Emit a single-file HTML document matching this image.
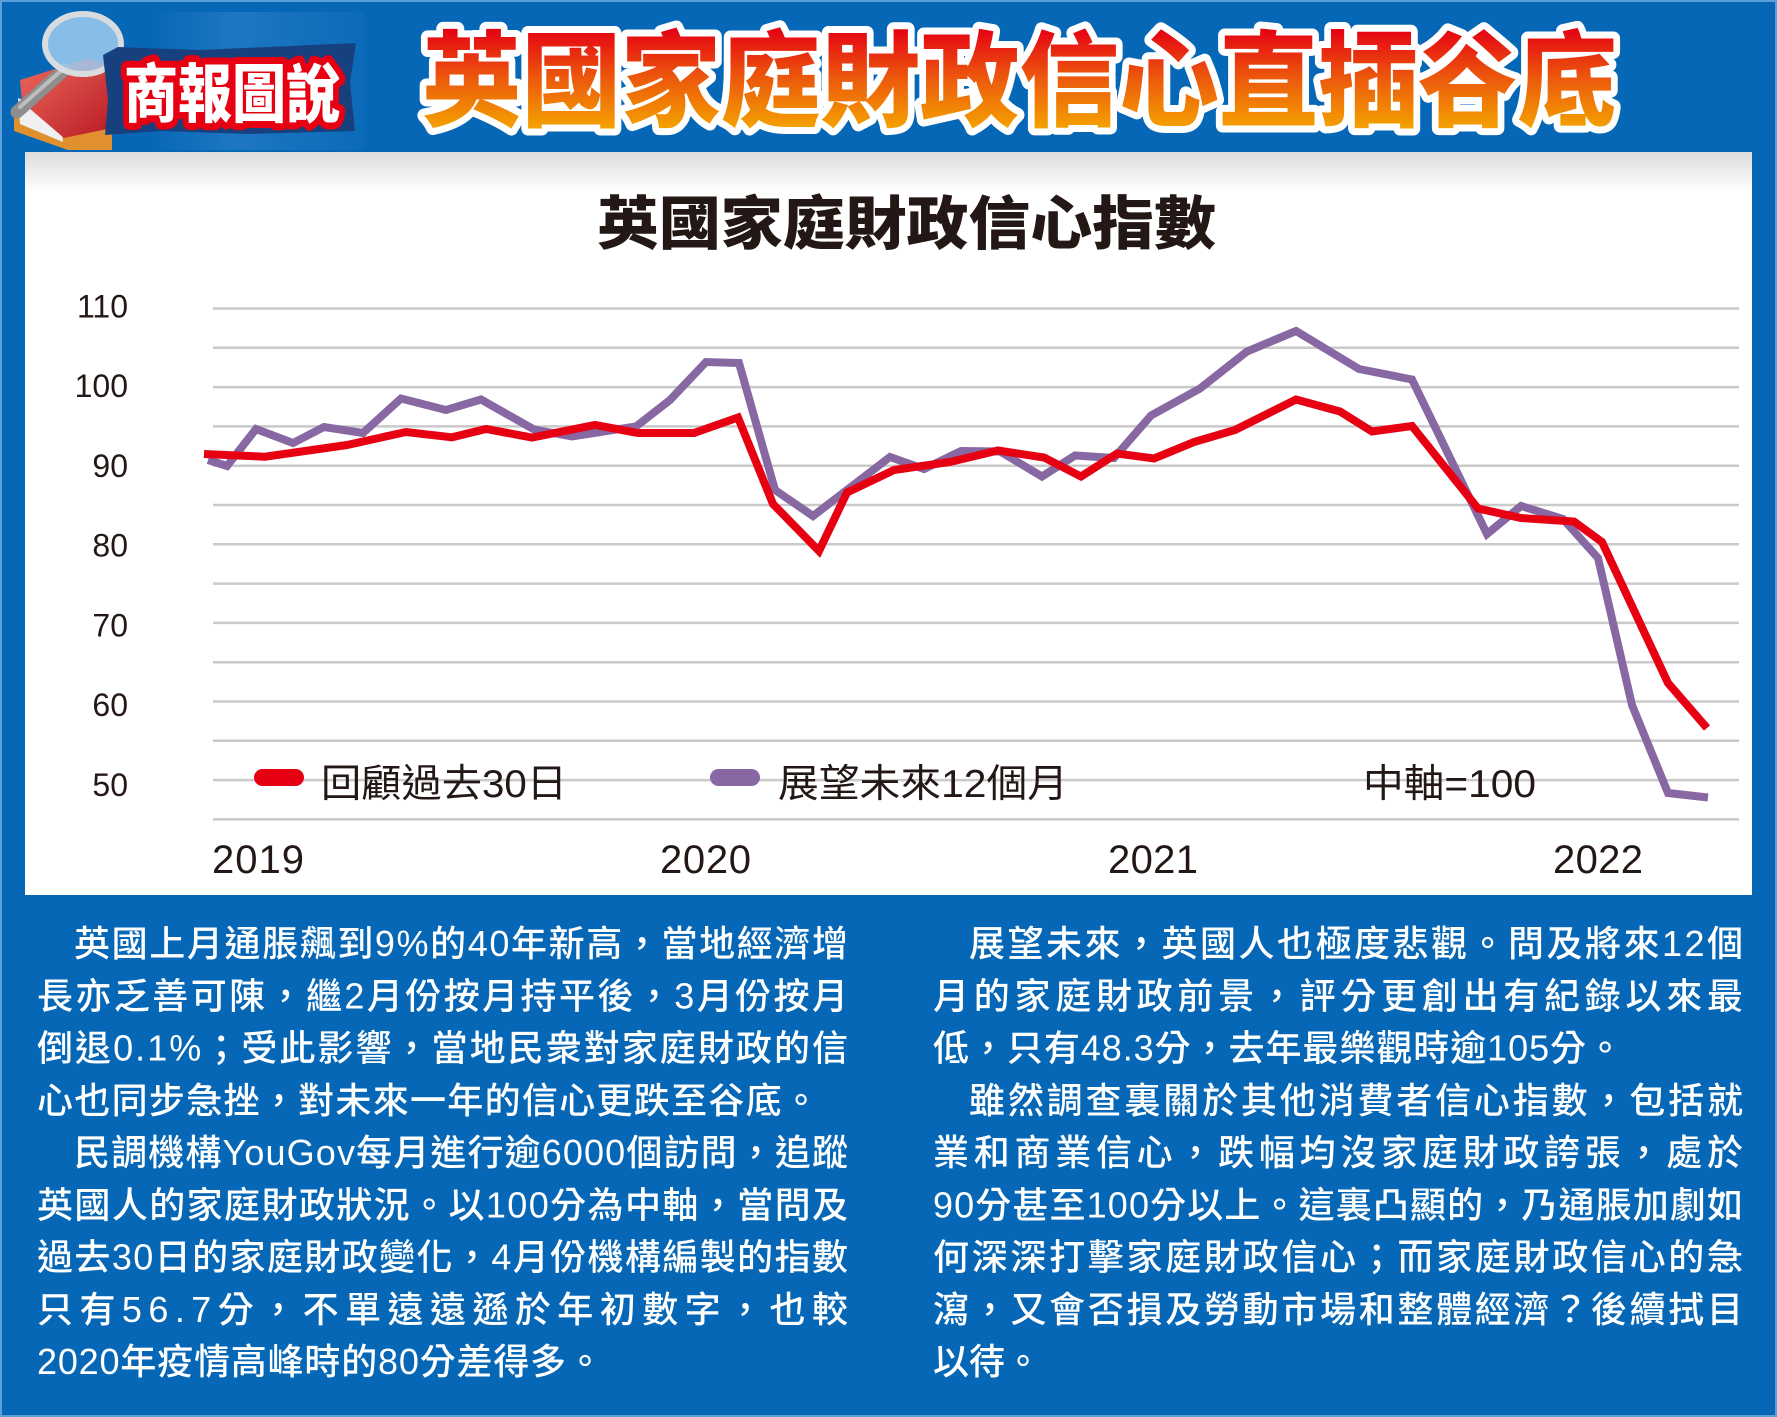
<!DOCTYPE html>
<html><head><meta charset="utf-8">
<style>
html,body{margin:0;padding:0;background:#0667b6;}
svg{display:block;}
text{font-family:"Liberation Sans","Noto Sans CJK TC",sans-serif;}
</style></head><body>
<svg width="1777" height="1417" viewBox="0 0 1777 1417" xmlns="http://www.w3.org/2000/svg">
<defs>
<linearGradient id="tg" gradientUnits="userSpaceOnUse" x1="0" y1="30" x2="0" y2="128">
<stop offset="0" stop-color="#e50314"/><stop offset="0.5" stop-color="#ec5a0c"/><stop offset="1" stop-color="#f4a100"/>
</linearGradient>
<linearGradient id="pg" x1="0" y1="0" x2="0" y2="1">
<stop offset="0" stop-color="#dcdcdc"/><stop offset="1" stop-color="#ffffff"/>
</linearGradient>
<linearGradient id="rb" x1="0" y1="0" x2="1" y2="1">
<stop offset="0" stop-color="#ec6a5c"/><stop offset="1" stop-color="#b91a24"/>
</linearGradient>
<linearGradient id="tex" x1="0" y1="0" x2="1" y2="0">
<stop offset="0" stop-color="#3a8ad0" stop-opacity="0"/><stop offset="0.4" stop-color="#3a8ad0" stop-opacity="0.45"/><stop offset="1" stop-color="#3a8ad0" stop-opacity="0.1"/>
</linearGradient>
</defs>

<rect x="0" y="0" width="1777" height="1417" fill="#0667b6"/>
<rect x="1" y="1" width="1775" height="1415" fill="none" stroke="#5d9fd8" stroke-width="2"/>

<!-- logo -->
<rect x="150" y="12" width="215" height="138" fill="url(#tex)"/>
<polygon points="14,118 55,104 112,116 112,150 68,150 14,131" fill="#e0902f"/>
<polygon points="18,98 60,116 63,142 20,124" fill="#f0f0f0"/>
<polygon points="20,80 90,58 112,68 112,128 64,138 22,102" fill="url(#rb)"/>
<line x1="64" y1="70" x2="17" y2="112" stroke="#8e8e8e" stroke-width="13" stroke-linecap="round"/>
<line x1="62" y1="70" x2="20" y2="107" stroke="#bdbdbd" stroke-width="4" stroke-linecap="round"/>
<ellipse cx="83" cy="44" rx="38" ry="30" fill="#9fcdef" fill-opacity="0.85" stroke="#d8dcdf" stroke-width="6"/>
<polygon points="103,55 118,47 200,50 290,46 356,43 350,82 355,131 250,134 160,131 105,135 108,100" fill="#17407f"/>
<text x="124" y="117" font-size="64" font-weight="900" textLength="216" lengthAdjust="spacingAndGlyphs" fill="#ffffff" stroke="#e60012" stroke-width="14" stroke-linejoin="round" paint-order="stroke">商報圖說</text>

<!-- header title -->
<text x="422" y="118" font-size="104" font-weight="900" textLength="1195" lengthAdjust="spacingAndGlyphs" fill="url(#tg)" stroke="#ffffff" stroke-width="14" stroke-linejoin="round" paint-order="stroke">英國家庭財政信心直插谷底</text>

<!-- chart panel -->
<rect x="25" y="152" width="1727" height="743" fill="#ffffff"/>
<rect x="25" y="152" width="1727" height="40" fill="url(#pg)"/>

<text x="597" y="244" font-size="58" font-weight="900" textLength="619" lengthAdjust="spacingAndGlyphs" fill="#231815">英國家庭財政信心指數</text>

<!-- gridlines -->
<g stroke="#cacaca" stroke-width="2.5">
<line x1="213" x2="1739" y1="308.5" y2="308.5"/>
<line x1="213" x2="1739" y1="347.8" y2="347.8"/>
<line x1="213" x2="1739" y1="387.1" y2="387.1"/>
<line x1="213" x2="1739" y1="426.4" y2="426.4"/>
<line x1="213" x2="1739" y1="465.7" y2="465.7"/>
<line x1="213" x2="1739" y1="505.0" y2="505.0"/>
<line x1="213" x2="1739" y1="544.3" y2="544.3"/>
<line x1="213" x2="1739" y1="583.6" y2="583.6"/>
<line x1="213" x2="1739" y1="622.9" y2="622.9"/>
<line x1="213" x2="1739" y1="662.2" y2="662.2"/>
<line x1="213" x2="1739" y1="701.5" y2="701.5"/>
<line x1="213" x2="1739" y1="740.8" y2="740.8"/>
<line x1="213" x2="1739" y1="780.1" y2="780.1"/>
<line x1="213" x2="1739" y1="819.4" y2="819.4"/>
</g>

<!-- y labels -->
<g font-size="32" fill="#231815" text-anchor="end">
<text x="128" y="317.5">110</text>
<text x="128" y="397.2">100</text>
<text x="128" y="477">90</text>
<text x="128" y="556.6">80</text>
<text x="128" y="636.3">70</text>
<text x="128" y="716">60</text>
<text x="128" y="796">50</text>
</g>

<!-- x labels -->
<g font-size="40" fill="#231815">
<text x="212" y="873" textLength="92">2019</text>
<text x="660" y="873" textLength="91">2020</text>
<text x="1108" y="873" textLength="90">2021</text>
<text x="1553" y="873" textLength="90">2022</text>
</g>

<!-- series -->
<polyline fill="none" stroke="#8868a3" stroke-width="8" stroke-linejoin="miter" points="208,460 227,466 256,429 293,443 324,427 363,433 401,398.5 446,410 481,399.5 534,429.5 572,436.5 636,426.5 670,400 706,362 739,363 775,490 813,516 890,457 924,469 961,451 1000,451.5 1042,476.5 1075,455.5 1114,458 1151,415.5 1200,388.5 1247,351.5 1296,331 1359,369 1412,379.5 1487,534 1521,506 1563,519 1598,558 1632,705 1668,793 1708,797.5"/>
<polyline fill="none" stroke="#e60012" stroke-width="8" stroke-linejoin="miter" points="204,454 265,456.7 347,445 406,432 452,437.3 486,429 532,437.5 595,425 638,433 694,433 738,417.5 773,504 819,551 847,492.5 894,470 950,462 998,450.5 1044,457.5 1081,476.5 1117,453.5 1154,458.5 1194,442 1235,430 1296,399.5 1340,411.5 1372,431.5 1412,426 1478,508.5 1521,518 1574,521.5 1602,542 1668,683 1707,728"/>

<!-- legend -->
<rect x="254" y="769" width="50" height="17" rx="8.5" fill="#e60012"/>
<rect x="710" y="769" width="50" height="17" rx="8.5" fill="#8868a3"/>
<g font-size="39" fill="#231815">
<text x="321" y="797" textLength="246" lengthAdjust="spacingAndGlyphs">回顧過去30日</text>
<text x="778" y="797" textLength="290" lengthAdjust="spacingAndGlyphs">展望未來12個月</text>
<text x="1363" y="797" textLength="173" lengthAdjust="spacingAndGlyphs">中軸=100</text>
</g>

<!-- paragraphs -->
<g font-size="36" font-weight="500" fill="#ffffff">
<text x="74" y="956" textLength="774" lengthAdjust="spacing">英國上月通脹飆到9%的40年新高，當地經濟增</text>
<text x="37" y="1008.3" textLength="811" lengthAdjust="spacing">長亦乏善可陳，繼2月份按月持平後，3月份按月</text>
<text x="37" y="1060.5" textLength="811" lengthAdjust="spacing">倒退0.1%；受此影響，當地民衆對家庭財政的信</text>
<text x="37" y="1112.8" textLength="782" lengthAdjust="spacing">心也同步急挫，對未來一年的信心更跌至谷底。</text>
<text x="74" y="1165" textLength="774" lengthAdjust="spacing">民調機構YouGov每月進行逾6000個訪問，追蹤</text>
<text x="37" y="1217.3" textLength="811" lengthAdjust="spacing">英國人的家庭財政狀況。以100分為中軸，當問及</text>
<text x="37" y="1269.5" textLength="811" lengthAdjust="spacing">過去30日的家庭財政變化，4月份機構編製的指數</text>
<text x="37" y="1321.8" textLength="811" lengthAdjust="spacing">只有56.7分，不單遠遠遜於年初數字，也較</text>
<text x="37" y="1374" textLength="566" lengthAdjust="spacing">2020年疫情高峰時的80分差得多。</text>

<text x="969" y="956" textLength="774" lengthAdjust="spacing">展望未來，英國人也極度悲觀。問及將來12個</text>
<text x="933" y="1008.3" textLength="810" lengthAdjust="spacing">月的家庭財政前景，評分更創出有紀錄以來最</text>
<text x="933" y="1060.5" textLength="690" lengthAdjust="spacing">低，只有48.3分，去年最樂觀時逾105分。</text>
<text x="969" y="1112.8" textLength="774" lengthAdjust="spacing">雖然調查裏關於其他消費者信心指數，包括就</text>
<text x="933" y="1165" textLength="810" lengthAdjust="spacing">業和商業信心，跌幅均沒家庭財政誇張，處於</text>
<text x="933" y="1217.3" textLength="810" lengthAdjust="spacing">90分甚至100分以上。這裏凸顯的，乃通脹加劇如</text>
<text x="933" y="1269.5" textLength="810" lengthAdjust="spacing">何深深打擊家庭財政信心；而家庭財政信心的急</text>
<text x="933" y="1321.8" textLength="810" lengthAdjust="spacing">瀉，又會否損及勞動市場和整體經濟？後續拭目</text>
<text x="933" y="1374" textLength="108" lengthAdjust="spacing">以待。</text>
</g>
</svg>
</body></html>
